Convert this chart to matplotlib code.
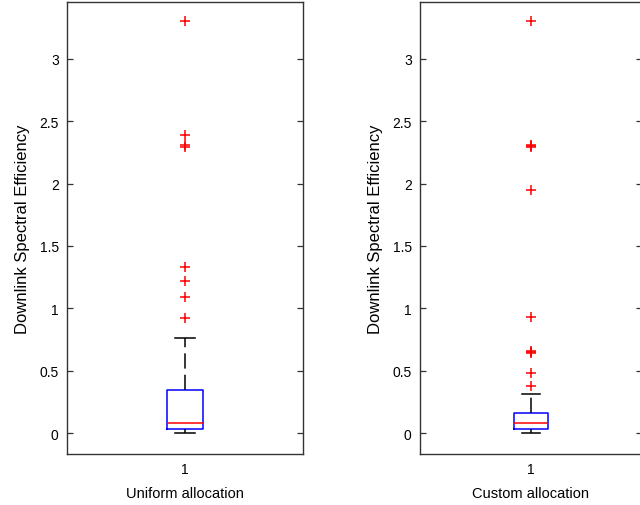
import matplotlib
matplotlib.use("Agg")
import matplotlib.pyplot as plt
from matplotlib.ticker import FuncFormatter

plt.rcParams["font.family"] = ["Liberation Sans", "DejaVu Sans"]

# Box statistics for the two allocation schemes
labels = ["Uniform allocation", "Custom allocation"]
medians = [0.08, 0.08]
q1 = [0.035, 0.032]
q3 = [0.345, 0.163]
whisker_lo = [0.0, 0.0]
whisker_hi = [0.76, 0.313]
outliers_uniform = [3.30, 2.39, 2.31, 2.29, 1.33, 1.22, 1.09, 0.92]
outliers_custom = [3.30, 2.31, 2.30, 2.29, 1.95, 0.93, 0.66, 0.65, 0.64, 0.48, 0.38]
outliers = [outliers_uniform, outliers_custom]

yticks = [0, 0.5, 1, 1.5, 2, 2.5, 3]

fig = plt.figure(figsize=(6.4, 5.06), dpi=100)
axes = [fig.add_axes([67 / 640, 51 / 506, 236 / 640, 452 / 506]),
        fig.add_axes([420 / 640, 51 / 506, 222 / 640, 452 / 506])]

for i, ax in enumerate(axes):
    stats = [dict(med=medians[i], q1=q1[i], q3=q3[i],
                  whislo=whisker_lo[i], whishi=whisker_hi[i],
                  fliers=outliers[i], label="1")]
    ax.bxp(stats, positions=[1], widths=0.15, capwidths=0.085,
           boxprops=dict(color="blue", lw=1.1),
           medianprops=dict(color="red", lw=1.1),
           whiskerprops=dict(color="black", lw=1.1, linestyle=(0, (10, 4))),
           capprops=dict(color="black", lw=1.1),
           flierprops=dict(marker="+", markeredgecolor="red",
                           markersize=7, markeredgewidth=1.1,
                           linestyle="none"))
    ax.set_xlim(0.5, 1.5)
    ax.set_ylim(-0.168, 3.456)
    ax.set_yticks(yticks)
    ax.yaxis.set_major_formatter(FuncFormatter(lambda v, p: f"{v:g}"))
    ax.tick_params(axis="y", direction="in", length=4.5, width=0.9,
                   color="#333333", labelsize=10, right=True, pad=6)
    ax.tick_params(axis="x", length=0, labelsize=10, pad=6)
    for s in ax.spines.values():
        s.set_color("#333333")
        s.set_linewidth(1.0)
    ax.set_ylabel("Downlink Spectral Efficiency", fontsize=12, labelpad=7)
    ax.set_xlabel(labels[i], fontsize=10.5, labelpad=7)

fig.savefig("out.png", dpi=100)
